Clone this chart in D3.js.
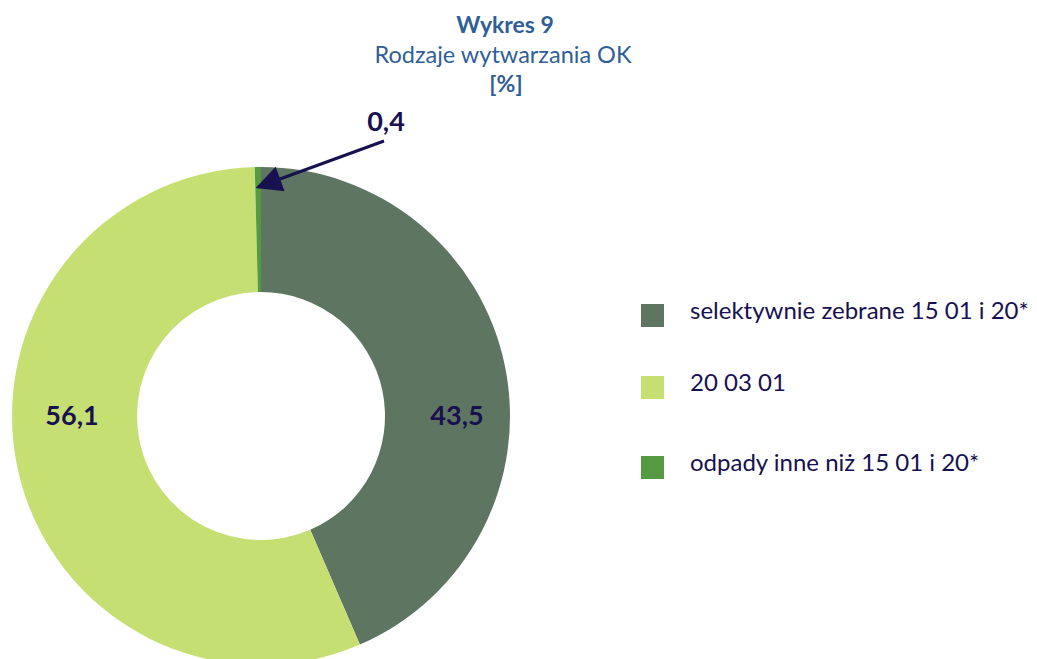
<!DOCTYPE html>
<html>
<head>
<meta charset="utf-8">
<script src="https://cdn.jsdelivr.net/npm/d3@7"></script>
<style>
  html, body { margin: 0; padding: 0; background: #fff; }
  svg { display: block; font-family: Lato, "Open Sans", sans-serif; }
</style>
</head>
<body>
<svg id="chart" width="1037" height="659"></svg>
<script>
const categories = ['selektywnie zebrane 15 01 i 20*', '20 03 01', 'odpady inne niż 15 01 i 20*'];
const values = [43.5, 56.1, 0.4];
const valueLabels = ['43,5', '56,1', '0,4'];
const colors = ['#5e7561', '#c6df73', '#559a40'];
const titleLines = ['Wykres 9', 'Rodzaje wytwarzania OK', '[%]'];

const TEXT_COLOR = '#17124f';
const TITLE_COLOR = '#2f5f96';

const svg = d3.select('#chart');

// Title
const titleX = 505;
svg.append('text').attr('x', titleX).attr('y', 33)
  .attr('text-anchor', 'middle').attr('fill', TITLE_COLOR)
  .style('font-size', '23px').style('font-weight', 'bold')
  .text(titleLines[0]);
svg.append('text').attr('x', titleX - 2).attr('y', 63)
  .attr('text-anchor', 'middle').attr('fill', TITLE_COLOR)
  .style('font-size', '23.5px')
  .text(titleLines[1]);
svg.append('text').attr('x', titleX + 1).attr('y', 92)
  .attr('text-anchor', 'middle').attr('fill', TITLE_COLOR)
  .style('font-size', '23px').style('font-weight', 'bold')
  .text(titleLines[2]);

// Donut
const cx = 261, cy = 416;
const outerR = 249, innerR = 124;

const pie = d3.pie().value(d => d).sort(null);
const arcs = pie(values);
const arc = d3.arc().innerRadius(innerR).outerRadius(outerR);

const g = svg.append('g').attr('transform', `translate(${cx},${cy})`);
g.selectAll('path')
  .data(arcs)
  .join('path')
    .attr('d', arc)
    .attr('fill', (d, i) => colors[i]);

// Labels for the two big slices, placed on the horizontal through the centre
const labelX = [196, -189];
arcs.slice(0, 2).forEach((d, i) => {
  g.append('text')
    .attr('x', labelX[i])
    .attr('y', 0)
    .attr('dy', '0.35em')
    .attr('text-anchor', 'middle')
    .attr('fill', TEXT_COLOR)
    .style('font-size', '27px').style('font-weight', 'bold')
    .text(valueLabels[i]);
});

// Small slice label with arrow
const defs = svg.append('defs');
defs.append('marker')
  .attr('id', 'arrowhead')
  .attr('viewBox', '0 0 10 10')
  .attr('refX', 9).attr('refY', 5)
  .attr('markerWidth', 28).attr('markerHeight', 26)
  .attr('markerUnits', 'userSpaceOnUse')
  .attr('orient', 'auto')
  .append('path')
    .attr('d', 'M0,0 L10,5 L0,10 Z')
    .attr('fill', TEXT_COLOR);

const small = arcs[2];
const tipAngle = (small.startAngle + small.endAngle) / 2;
const tipR = outerR - 20;
const tipX = cx + tipR * Math.sin(tipAngle);
const tipY = cy - tipR * Math.cos(tipAngle);

svg.append('line')
  .attr('x1', 384).attr('y1', 141)
  .attr('x2', tipX).attr('y2', tipY)
  .attr('stroke', TEXT_COLOR).attr('stroke-width', 3)
  .attr('marker-end', 'url(#arrowhead)');

svg.append('text')
  .attr('x', 386).attr('y', 131)
  .attr('text-anchor', 'middle')
  .attr('fill', TEXT_COLOR)
  .style('font-size', '27px').style('font-weight', 'bold')
  .text(valueLabels[2]);

// Legend
const legendY = [304, 376, 456];
const legend = svg.append('g');
categories.forEach((c, i) => {
  legend.append('rect')
    .attr('x', 641).attr('y', legendY[i])
    .attr('width', 23).attr('height', 23)
    .attr('fill', colors[i]);
  legend.append('text')
    .attr('x', 690).attr('y', legendY[i] + 15)
    .attr('fill', TEXT_COLOR)
    .style('font-size', '24px')
    .text(c);
});
</script>
</body>
</html>
